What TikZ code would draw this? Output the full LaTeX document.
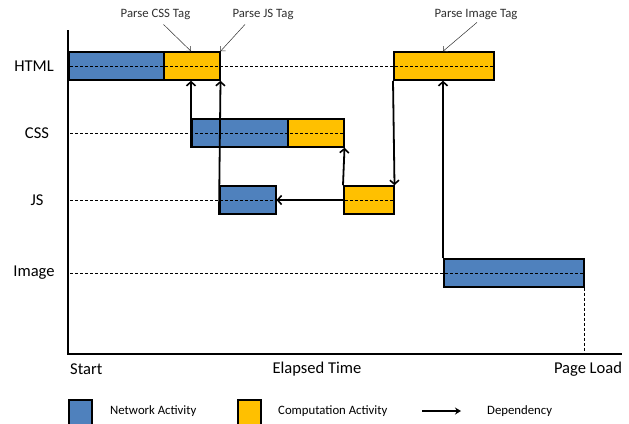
\documentclass[tikz,border=0pt]{standalone}
\usepackage{fontspec}
\setmainfont{Carlito}
\usetikzlibrary{arrows.meta}
\definecolor{netblue}{HTML}{4F81BD}
\definecolor{compyellow}{HTML}{FFC000}
\definecolor{annot}{HTML}{303030}
\begin{document}
\begin{tikzpicture}[x=1bp,y=-1bp,
  bar/.style={draw=black,line width=1.5bp,inner sep=0pt,minimum height=28bp,anchor=west},
  net/.style={bar,fill=netblue},
  comp/.style={bar,fill=compyellow},
  rowlabel/.style={font=\fontsize{16.6}{19}\selectfont,inner sep=0pt},
  small/.style={font=\fontsize{12.8}{15}\selectfont,inner sep=0pt,text=annot},
  guide/.style={dashed,line width=0.8bp,dash pattern=on 3bp off 2bp},
  dep/.style={line width=1.8bp,-{Straight Barb[length=4bp,width=9bp,line width=1.6bp]}},
  ann/.style={line width=0.5bp,draw=annot,-{Straight Barb[length=3.5bp,width=7bp,line width=0.5bp]}},
  axisline/.style={line width=1.8bp}
]
\useasboundingbox (0,0) rectangle (629,423);
% axes
\coordinate (top) at (68,30);
\coordinate (origin) at (68,354);
\coordinate (xend) at (622,354);
\draw[axisline] (top) -- (origin) -- (xend);
% row labels
\node[rowlabel] (lhtml) at (34,66) {HTML};
\node[rowlabel] (lcss) at (37,133) {CSS};
\node[rowlabel] (ljs) at (37,200) {JS};
\node[rowlabel] (limg) at (34,273) {Image};
% bars
\node[net,minimum width=95bp] (h1) at (68,66) {};
\node[comp,minimum width=56bp] (h2) at (163,66) {};
\node[comp,minimum width=100bp] (h3) at (393,66) {};
\node[net,minimum width=96bp] (c1) at (191,133) {};
\node[comp,minimum width=56bp] (c2) at (287,133) {};
\node[net,minimum width=56bp] (j1) at (219,200) {};
\node[comp,minimum width=50bp] (j2) at (343,200) {};
\node[net,minimum width=140bp] (i1) at (443,273) {};
% guides
\draw[guide] (70,66) -- (h3.east);
\draw[guide] (70,133) -- (c2.east);
\draw[guide] (70,200) -- (j2.east);
\draw[guide] (70,273) -- (i1.east);
\draw[guide] (i1.south east) -- (i1.south east |- origin);
% dependencies
\draw[dep] (c1.south west) -- (c1.west |- h1.south);
\draw[dep] (j1.south west) -- (h2.south east);
\draw[dep] (j2.north west) -- (c2.south east);
\draw[dep] (h3.south west) -- (j2.north east);
\draw[dep] (i1.north west) -- (i1.west |- h3.south);
\draw[dep] (j2.west) -- (j1.east);
% annotations
\node[small] (pcss) at (155.5,14) {Parse CSS Tag};
\node[small] (pjs) at (263,14) {Parse JS Tag};
\node[small] (pimg) at (476,14) {Parse Image Tag};
\draw[ann] ([xshift=8bp,yshift=-5bp]pcss.south) -- (c1.west |- h2.north);
\draw[ann] ([xshift=-18bp,yshift=-5bp]pjs.south) -- (h2.north east);
\draw[ann] ([xshift=1bp,yshift=-3bp]pimg.south) -- (i1.west |- h3.north);
% x labels
\node[rowlabel,anchor=west] (lstart) at (70,369) {Start};
\node[rowlabel] (lelapsed) at (317,369) {Elapsed Time};
\node[rowlabel] (lload) at (588,369) {Page Load};
% legend
\node[net,minimum width=23bp,minimum height=30bp,anchor=north west] (kn) at (68,399) {};
\node[small,anchor=west,text=black] (tn) at (110,411) {Network Activity};
\node[comp,minimum width=23bp,minimum height=30bp,anchor=north west] (kc) at (237,399) {};
\node[small,anchor=west,text=black] (tc) at (278,411) {Computation Activity};
\coordinate (da) at (422,411);
\coordinate (db) at (461,411);
\draw[line width=1.6bp,-{Stealth[length=6bp,width=7bp]}] (da) -- (db);
\node[small,anchor=west,text=black] (td) at (487,411) {Dependency};
\end{tikzpicture}
\end{document}
